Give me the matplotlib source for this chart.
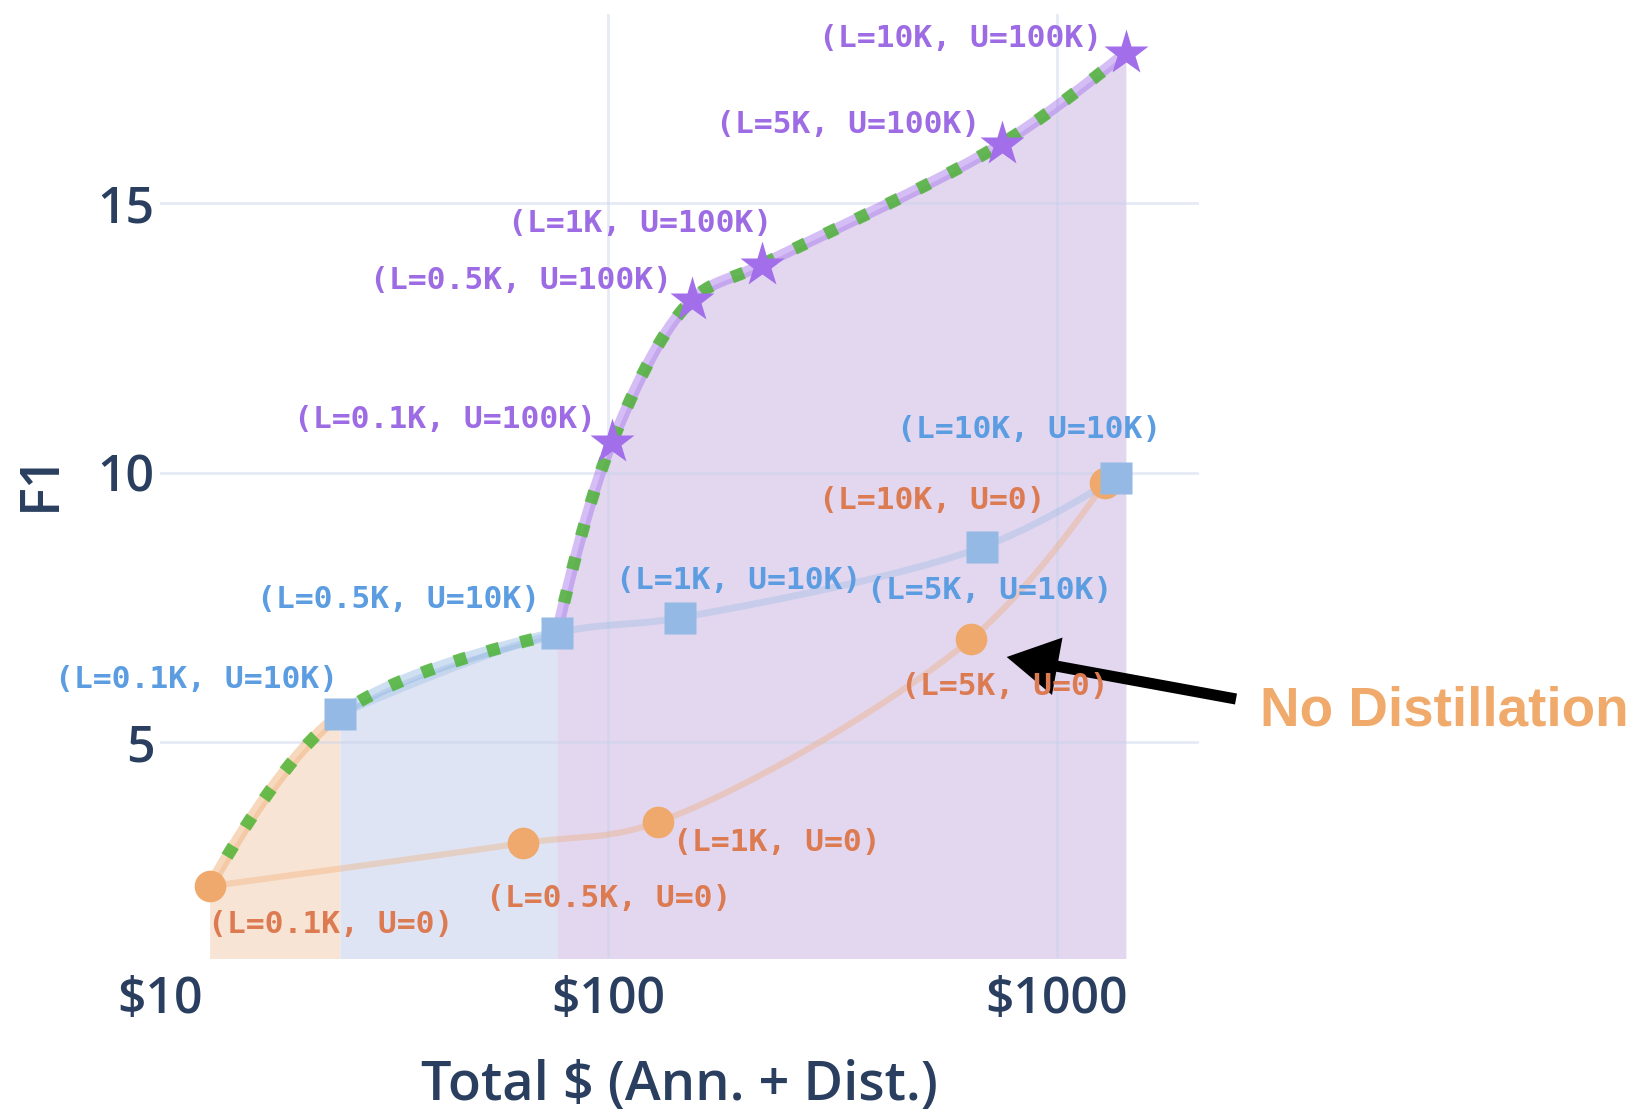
import numpy as np
import matplotlib
matplotlib.use("Agg")
import matplotlib.pyplot as plt
from matplotlib.ticker import FixedLocator, FixedFormatter, NullLocator

# ---------------- data ----------------
label_sizes = ["0.1K", "0.5K", "1K", "5K", "10K"]

# no unlabeled data (U=0)
cost_u0 = [12.9, 64.4, 128.9, 643.0, 1280.0]
f1_u0 = [2.33, 3.13, 3.52, 6.91, 9.81]

# 10K unlabeled examples distilled
cost_u10k = [25.2, 76.7, 144.7, 683.0, 1356.0]
f1_u10k = [5.52, 7.02, 7.31, 8.62, 9.91]

# 100K unlabeled examples distilled
cost_u100k = [101.9, 153.5, 220.5, 754.0, 1427.0]
f1_u100k = [10.57, 13.20, 13.86, 16.10, 17.79]

x_ticks = [10, 100, 1000]
x_tick_labels = ["$10", "$100", "$1000"]
y_ticks = [5, 10, 15]
y_tick_labels = ["5", "10", "15"]

# ---------------- style ----------------
ORANGE = "#f0a96d"
ORANGE_TXT = "#dc7b52"
ORANGE_FILL = "#f8e4d5"
BLUE = "#93b9e4"
BLUE_TXT = "#5c9de2"
BLUE_FILL = "#dfe4f4"
PURPLE = "#a26eea"
PURPLE_TXT = "#9d6ce4"
PURPLE_FILL = "#e3d7f0"
GREEN = "#4fb536"
NAVY = "#2a3f5f"
GRID = "#c7d1ea"
MONO = "DejaVu Sans Mono"
SANS = "Open Sans"

W, H, DPI = 1638, 1113, 100
fig = plt.figure(figsize=(W / DPI, H / DPI), dpi=DPI)
ax = fig.add_axes([160 / W, 1 - 958 / H, (1199 - 160) / W, (958 - 14.3) / H])
ax.set_xscale("log")
ax.set_xlim(10, 2077)
ax.set_ylim(1.0, 18.5)


def smooth_curve(ax, xs, ys, smoothing=1.0, n=80):
    """Spline through the points (Catmull-Rom style tangents, computed in
    screen space), returned as one array of data-space points per segment."""
    pts = ax.transData.transform(np.column_stack([xs, ys]))
    m = len(pts)
    t = np.linspace(0.0, 1.0, n)[:, None]

    def quad(p0, c, p1):
        return (1 - t) ** 2 * p0 + 2 * (1 - t) * t * c + t ** 2 * p1

    def cubic(p0, c0, c1, p1):
        return ((1 - t) ** 3 * p0 + 3 * (1 - t) ** 2 * t * c0
                + 3 * (1 - t) * t ** 2 * c1 + t ** 3 * p1)

    if m < 3:
        segs = [pts[i] + t * (pts[i + 1] - pts[i]) for i in range(m - 1)]
    else:
        tans = []
        for i in range(1, m - 1):
            d1 = pts[i - 1] - pts[i]
            d2 = pts[i + 1] - pts[i]
            d1a = np.hypot(*d1) ** 0.5
            d2a = np.hypot(*d2) ** 0.5
            num = (d2a ** 2 * d1 - d1a ** 2 * d2) * smoothing
            tans.append((pts[i] + num / (3 * d2a * (d1a + d2a)),
                         pts[i] - num / (3 * d1a * (d1a + d2a))))
        segs = [quad(pts[0], tans[0][0], pts[1])]
        for i in range(1, m - 2):
            segs.append(cubic(pts[i], tans[i - 1][1], tans[i][0], pts[i + 1]))
        segs.append(quad(pts[m - 2], tans[m - 3][1], pts[m - 1]))
    inv = ax.transData.inverted()
    return [inv.transform(s) for s in segs]


# Pareto frontier: low-budget part (no / 10K distillation) and the
# 100K-distillation part, joined at the L=0.5K, U=10K point
low_x = [cost_u0[0], cost_u10k[0], cost_u10k[1]]
low_y = [f1_u0[0], f1_u10k[0], f1_u10k[1]]
high_x = [cost_u10k[1]] + cost_u100k
high_y = [f1_u10k[1]] + f1_u100k
low_segs = smooth_curve(ax, low_x, low_y)
high_segs = smooth_curve(ax, high_x, high_y)

regions = [
    (low_segs[0:1], ORANGE_FILL, ORANGE),
    (low_segs[1:2], BLUE_FILL, BLUE),
    (high_segs, PURPLE_FILL, PURPLE),
]
for segs, fill_c, line_c in regions:
    arr = np.vstack(segs)
    ax.fill_between(arr[:, 0], arr[:, 1], 0, color=fill_c, lw=0, zorder=1)
    ax.plot(arr[:, 0], arr[:, 1], color=line_c, lw=8, alpha=0.45,
            solid_capstyle="butt", zorder=2)

# series lines
for xs, ys, c, lw in [(cost_u0, f1_u0, ORANGE, 4.5),
                      (cost_u10k, f1_u10k, BLUE, 5.0)]:
    arr = np.vstack(smooth_curve(ax, xs, ys))
    ax.plot(arr[:, 0], arr[:, 1], color=c, lw=lw, alpha=0.35,
            solid_capstyle="round", zorder=2)

# dotted frontier
farr = np.vstack(low_segs + high_segs)
ax.plot(farr[:, 0], farr[:, 1], color=GREEN, lw=9.0, alpha=0.85,
        linestyle=(0, (1.0, 1.75)), dash_capstyle="butt", zorder=2.5)

# markers
ax.plot(cost_u0, f1_u0, "o", ms=22.8, color=ORANGE, mec="none", zorder=3)
ax.plot(cost_u10k, f1_u10k, "s", ms=22.8, color=BLUE, mec="none", zorder=3.1)
ax.plot(cost_u100k, f1_u100k, "*", ms=34, color=PURPLE, mec="none", zorder=3.2)

# point labels (offsets in pixels from each point)
offs_u0 = [(121, -38), (86, -55), (119, -20), (34, -47), (-172, -18)]
offs_u10k = [(-143, 35), (-158, 34), (58, 37), (7, -43), (-87, 48)]
offs_u100k = [(-167, 22), (-171, 20), (-122, 41), (-154, 19), (-165, 14)]

for xs, ys, offs, u, c in [(cost_u0, f1_u0, offs_u0, "0", ORANGE_TXT),
                           (cost_u10k, f1_u10k, offs_u10k, "10K", BLUE_TXT),
                           (cost_u100k, f1_u100k, offs_u100k, "100K", PURPLE_TXT)]:
    for x, y, lab, off in zip(xs, ys, label_sizes, offs):
        ax.annotate(f"(L={lab}, U={u})", xy=(x, y), xytext=off,
                    textcoords="offset pixels", ha="center", va="center",
                    family=MONO, fontweight="bold", fontsize=22.6, color=c,
                    zorder=4)

# axes styling
for sp in ax.spines.values():
    sp.set_visible(False)
ax.xaxis.set_major_locator(FixedLocator(x_ticks))
ax.xaxis.set_major_formatter(FixedFormatter(x_tick_labels))
ax.xaxis.set_minor_locator(NullLocator())
ax.yaxis.set_major_locator(FixedLocator(y_ticks))
ax.yaxis.set_major_formatter(FixedFormatter(y_tick_labels))
ax.tick_params(axis="both", length=0, labelcolor=NAVY)
ax.tick_params(axis="x", pad=12)
ax.tick_params(axis="y", pad=4)
for lab in ax.get_xticklabels() + ax.get_yticklabels():
    lab.set_fontfamily(SANS)
    lab.set_fontsize(36)
    lab.set_fontweight("semibold")

# grid: horizontal at every y tick, vertical at the inner x ticks
for yv in y_ticks:
    ax.axhline(yv, color=GRID, lw=2.0, alpha=0.45, zorder=1.5)
for xv in x_ticks[1:]:
    ax.axvline(xv, color=GRID, lw=2.0, alpha=0.45, zorder=1.5)

ax.set_xlabel("Total $ (Ann. + Dist.)", family=SANS, fontsize=39,
              fontweight="semibold", color=NAVY, va="center")
ax.xaxis.set_label_coords(0.5, -0.1355)
ax.set_ylabel("F1", family=SANS, fontsize=39, fontweight="semibold",
              color=NAVY, va="center")
ax.yaxis.set_label_coords(-0.115, 0.505)

# callout for the undistilled baseline
ax.annotate("", xy=(1006.7, 456), xycoords="figure pixels",
            xytext=(1236, 414), textcoords="figure pixels",
            arrowprops=dict(arrowstyle="simple,head_length=3.7,head_width=4.2,tail_width=0.8",
                            color="black", lw=0, shrinkA=0, shrinkB=0,
                            mutation_scale=10))
fig.text(1260 / W, 1 - 712 / H, "No Distillation", family="Liberation Sans",
         fontweight="bold", fontsize=39.5, color="#f0aa6c", ha="left", va="center")

fig.savefig("out.png", dpi=DPI, facecolor="white")
